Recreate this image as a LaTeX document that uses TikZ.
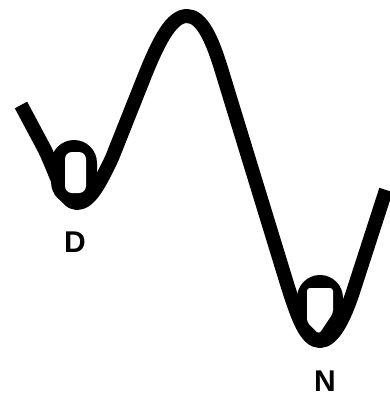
\documentclass[tikz,border=0pt]{standalone}
\usepackage{fontspec}
\setmainfont{Liberation Sans}

\begin{document}
\begin{tikzpicture}[x=1pt, y=-1pt, line join=round,
		landscape/.style={line width=14pt},
		ball/.style={fill=black, rounded corners=23pt},
		shine/.style={fill=white, rounded corners=7pt},
		welllabel/.style={font=\fontsize{30}{30}\selectfont\bfseries}]
		\useasboundingbox (0,0) rectangle (390,399);
		% energy curve
		\draw [landscape] (21,105) -- (45,150)
			.. controls (58,178) and (64,203) .. (77,203)
			.. controls (90,203) and (100,183) .. (112,158)
			-- (145,75)
			.. controls (160,38) and (172,16) .. (187,16)
			.. controls (202,16) and (212,40) .. (220,65)
			-- (288,287)
			.. controls (298,318) and (306,341) .. (320,341)
			.. controls (334,341) and (345,315) .. (352,295)
			-- (386,190);
		% ball in D
		\fill [ball] (51,140) rectangle (97,205);
		\fill [shine] (65,152) rectangle (86,193);
		% ball in N
		\fill [ball] (297,275) rectangle (343,345);
		\fill [white, rounded corners=3pt] (307,288) -- (333,288) -- (333,313) -- (319,334) -- (307,322) -- cycle;
		% labels
		\node [welllabel] (D) at (75,242) {D};
		\node [welllabel] (N) at (325,381) {N};
	\end{tikzpicture}
\end{document}
